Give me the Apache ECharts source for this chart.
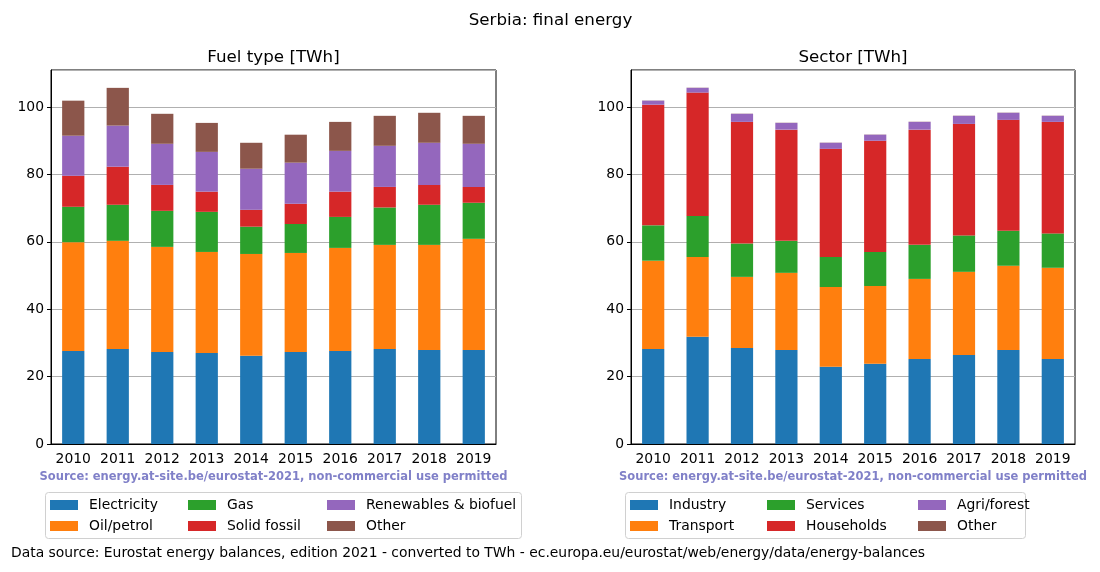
<!DOCTYPE html>
<html>
<head>
<meta charset="utf-8">
<script src="https://cdn.jsdelivr.net/npm/echarts@6/dist/echarts.min.js"></script>
<style>
html,body{margin:0;padding:0;background:#fff;}
#chart{width:1100px;height:572px;}
</style>
</head>
<body>
<div id="chart"></div>
<script>
const years = ['2010','2011','2012','2013','2014','2015','2016','2017','2018','2019'];
const yTicks = [0, 20, 40, 60, 80, 100];

// Fuel type [TWh]
const electricity = [27.6, 28.2, 27.3, 27.0, 26.2, 27.3, 27.6, 28.2, 27.9, 27.9];
const oilPetrol   = [32.3, 32.1, 31.2, 30.0, 30.2, 29.4, 30.6, 30.9, 31.2, 33.0];
const gas         = [10.5, 10.7, 10.7, 11.9, 8.1, 8.6, 9.2, 11.1, 11.9, 10.7];
const solidFossil = [9.2, 11.3, 7.7, 6.0, 5.0, 6.0, 7.5, 6.1, 5.9, 4.7];
const renewables  = [11.9, 12.2, 12.2, 11.8, 12.2, 12.2, 12.1, 12.2, 12.5, 12.8];
const fuelOther   = [10.4, 11.2, 8.9, 8.6, 7.7, 8.3, 8.6, 8.9, 8.9, 8.3];

// Sector [TWh]
const industry    = [28.2, 31.8, 28.5, 27.9, 22.9, 23.8, 25.2, 26.4, 27.9, 25.2];
const transport   = [26.2, 23.7, 21.1, 22.9, 23.7, 23.1, 23.8, 24.7, 25.0, 27.1];
const services    = [10.5, 12.2, 9.9, 9.5, 8.9, 10.1, 10.1, 10.8, 10.4, 10.2];
const households  = [35.8, 36.6, 36.1, 33.0, 32.1, 33.0, 34.2, 33.1, 32.9, 33.1];
const agriForest  = [1.2, 1.4, 2.4, 2.0, 1.8, 1.8, 2.3, 2.4, 2.1, 1.8];
const sectorOther = [0.05, 0.05, 0.05, 0.05, 0.05, 0.05, 0.05, 0.05, 0.05, 0.05];

const colors = ['#1f77b4', '#ff7f0e', '#2ca02c', '#d62728', '#9467bd', '#8c564b'];
const FONT = 'DejaVu Sans';

const fuelSeries = [
  ['Electricity', electricity], ['Oil/petrol', oilPetrol], ['Gas', gas],
  ['Solid fossil', solidFossil], ['Renewables & biofuel', renewables], ['Other', fuelOther]
];
const sectorSeries = [
  ['Industry', industry], ['Transport', transport], ['Services', services],
  ['Households', households], ['Agri/forest', agriForest], ['Other', sectorOther]
];

const chart = echarts.init(document.getElementById('chart'));

function xAxis(gi) {
  return {
    type: 'category', gridIndex: gi, data: years,
    axisLine: { lineStyle: { color: '#000', width: 1 } },
    axisTick: { alignWithLabel: true, interval: 0, length: 4, lineStyle: { color: '#000' } },
    axisLabel: { interval: 0, color: '#000', fontSize: 13.9, fontFamily: FONT, margin: 8 }
  };
}
function yAxis(gi) {
  return {
    type: 'value', gridIndex: gi, min: 0, max: 111, interval: 20,
    axisLine: { show: true, lineStyle: { color: '#000', width: 1 } },
    axisTick: { show: true, length: 4, lineStyle: { color: '#000' } },
    axisLabel: { color: '#000', fontSize: 13.9, fontFamily: FONT, margin: 7, showMaxLabel: false,
      formatter: v => yTicks.includes(v) ? String(v) : '' },
    splitLine: { show: true, lineStyle: { color: '#b0b0b0', width: 1 } }
  };
}

const series = [];
fuelSeries.forEach(([name, data], i) => series.push({
  name, type: 'bar', stack: 'fuel', xAxisIndex: 0, yAxisIndex: 0, data,
  barWidth: '50%', itemStyle: { color: colors[i] }
}));
sectorSeries.forEach(([name, data], i) => series.push({
  name, type: 'bar', stack: 'sector', xAxisIndex: 1, yAxisIndex: 1, data,
  barWidth: '50%', itemStyle: { color: colors[i] }
}));

function legend(names, left) {
  return {
    orient: 'vertical', left, top: 498, padding: 0, itemWidth: 28, itemHeight: 10, itemGap: 7,
    icon: 'rect', selectedMode: false, data: names,
    textStyle: { fontSize: 13.9, fontFamily: FONT, color: '#000', lineHeight: 14, padding: [0, 0, 0, 6] }
  };
}

const srcText = 'Source: energy.at-site.be/eurostat-2021, non-commercial use permitted';
const titleStyle = { fontSize: 16.7, fontWeight: 'normal', fontFamily: FONT, color: '#000' };

chart.setOption({
  animation: false,
  backgroundColor: '#fff',
  title: [
    { text: 'Serbia: final energy', left: 550.5, top: 12, padding: 0, textAlign: 'center', textStyle: titleStyle },
    { text: 'Fuel type [TWh]', left: 273.5, top: 49, padding: 0, textAlign: 'center', textStyle: titleStyle },
    { text: 'Sector [TWh]', left: 853, top: 49, padding: 0, textAlign: 'center', textStyle: titleStyle }
  ],
  grid: [
    { left: 51, top: 70, width: 445, height: 374, show: true, borderColor: '#000', borderWidth: 1, backgroundColor: 'transparent' },
    { left: 631, top: 70, width: 444, height: 374, show: true, borderColor: '#000', borderWidth: 1, backgroundColor: 'transparent' }
  ],
  xAxis: [xAxis(0), xAxis(1)],
  yAxis: [yAxis(0), yAxis(1)],
  legend: [
    legend(['Electricity', 'Oil/petrol'], 50),
    legend(['Gas', 'Solid fossil'], 188),
    legend(['Renewables & biofuel', 'Other'], 327),
    legend(['Industry', 'Transport'], 630),
    legend(['Services', 'Households'], 767),
    legend(['Agri/forest', 'Other'], 918)
  ],
  graphic: [
    { type: 'rect', z: 0, shape: { x: 45.5, y: 492.5, width: 476, height: 46, r: 3 },
      style: { fill: '#fff', stroke: '#d0d0d0', lineWidth: 1 } },
    { type: 'rect', z: 0, shape: { x: 625.5, y: 492.5, width: 400, height: 46, r: 3 },
      style: { fill: '#fff', stroke: '#d0d0d0', lineWidth: 1 } },
    { type: 'text', x: 273.5, y: 477, style: { text: srcText, fill: '#8080c8', font: 'bold 11.5px "DejaVu Sans"', textAlign: 'center', textVerticalAlign: 'middle' } },
    { type: 'text', x: 853, y: 477, style: { text: srcText, fill: '#8080c8', font: 'bold 11.5px "DejaVu Sans"', textAlign: 'center', textVerticalAlign: 'middle' } },
    { type: 'text', x: 11, y: 553, style: { text: 'Data source: Eurostat energy balances, edition 2021 - converted to TWh - ec.europa.eu/eurostat/web/energy/data/energy-balances', fill: '#000', font: '13.9px "DejaVu Sans"', textAlign: 'left', textVerticalAlign: 'middle' } }
  ],
  series
});
</script>
</body>
</html>
